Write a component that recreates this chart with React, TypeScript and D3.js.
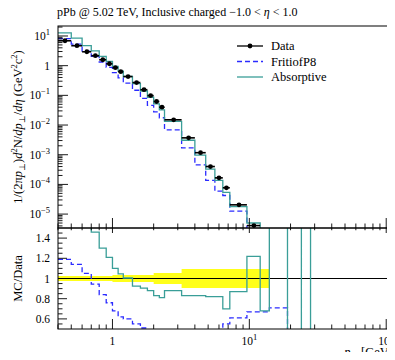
import React, { useEffect, useRef } from "react";
import * as d3 from "d3";

// bin edges in p_T (GeV)
const binEdges = [0.4, 0.5, 0.6, 0.7, 0.8, 0.9, 1.0, 1.1, 1.2, 1.4, 1.6, 1.8, 2.0, 2.2, 2.4, 3.2, 4.0, 4.8, 5.6, 6.4, 7.2, 9.6, 12, 14, 19, 24, 28, 32];

// measured yield per bin (first 23 bins, up to 14 GeV)
const dataValues = [6.9, 4.7, 2.94, 2.17, 1.58, 1.16, 0.855, 0.63, 0.43, 0.27, 0.155, 0.098, 0.062, 0.04, 0.015, 0.0037, 0.00117, 0.0004, 0.000166, 7.7e-5, 2.05e-5, 4.1e-6, 1.5e-6];
// relative uncertainty of the data
const dataRelErr = [0.025, 0.025, 0.025, 0.025, 0.025, 0.025, 0.035, 0.035, 0.035, 0.035, 0.035, 0.035, 0.055, 0.055, 0.055, 0.095, 0.095, 0.095, 0.095, 0.095, 0.095, 0.095, 0.095];

// MC / Data
const absorptiveRatio = [1.85, 1.8, 1.6, 1.46, 1.3, 1.21, 1.1, 1.045, 1.005, 0.925, 0.905, 0.88, 0.83, 0.81, 0.88, 0.83, 0.83, 0.82, 0.82, 0.7, 0.87, 1.22, 0.68, 2.0, 0, 2.0, 0];
const fritiofRatio = [1.19, 1.14, 1.05, 0.945, 0.84, 0.76, 0.68, 0.62, 0.6, 0.55, 0.51, 0.47, 0.45, 0.44, 0.46, 0.46, 0.39, 0.34, 0.36, 0.55, 0.61, 0.67, 0.67, 0.71, 0, 0, 0];

const mainYTicks = [1e1, 1, 1e-1, 1e-2, 1e-3, 1e-4, 1e-5];
const ratioYTicks = [0.6, 0.8, 1.0, 1.2, 1.4];
const xMajorTicks = [1, 10, 100];

const legendItems = [
  { label: "Data", color: "#000", dash: null },
  { label: "FritiofP8", color: "#2b2bff", dash: "5,3" },
  { label: "Absorptive", color: "#3a9e98", dash: null },
];

const FONT = "'Liberation Serif', 'DejaVu Serif', serif";

const App = () => {
  const ref = useRef<SVGSVGElement>(null);

  useEffect(() => {
    const svg = d3.select(ref.current);
    svg.selectAll("*").remove();

    const left = 58;
    const right = 394;
    const top = 26;
    const mid = 228;
    const bottom = 329;

    const x = d3.scaleLog().domain([0.4, 114]).range([left, right]);
    const y = d3.scaleLog().domain([3.4e-6, 21.7]).range([mid, top]);
    const yr = d3.scaleLinear().domain([0.5, 1.5]).range([bottom, mid]);

    const defs = svg.append("defs");
    defs.append("clipPath").attr("id", "clipMain").append("rect")
      .attr("x", left).attr("y", top).attr("width", right - left).attr("height", mid - top);
    defs.append("clipPath").attr("id", "clipRatio").append("rect")
      .attr("x", left).attr("y", mid).attr("width", right - left).attr("height", bottom - mid);

    const stepPath = (vals: number[], ys: (v: number) => number) => {
      let p = "";
      vals.forEach((v, i) => {
        const yy = v > 0 ? ys(v) : 2000;
        const yc = Math.max(-1000, Math.min(2000, yy));
        if (i === 0) p += `M${x(binEdges[0])},${yc}`;
        else p += `V${yc}`;
        p += `H${x(binEdges[i + 1])}`;
      });
      return p;
    };

    // ---- main panel ----
    const gMain = svg.append("g").attr("clip-path", "url(#clipMain)");
    const nData = dataValues.length;
    const fritiofMain = dataValues.map((d, i) => d * fritiofRatio[i]);
    const absorptiveMain = dataValues.map((d, i) => d * absorptiveRatio[i]);

    gMain.append("path").attr("d", stepPath(fritiofMain, y)).attr("fill", "none")
      .attr("stroke", legendItems[1].color).attr("stroke-width", 1.3).attr("stroke-dasharray", "5,3");
    gMain.append("path").attr("d", stepPath(absorptiveMain, y)).attr("fill", "none")
      .attr("stroke", legendItems[2].color).attr("stroke-width", 1.3);

    const pts = dataValues.map((v, i) => ({
      lo: binEdges[i], hi: binEdges[i + 1], mid: (binEdges[i] + binEdges[i + 1]) / 2, v, e: dataRelErr[i],
    }));
    gMain.selectAll(".xerr").data(pts).enter().append("line")
      .attr("x1", (d) => x(d.lo)).attr("x2", (d) => x(d.hi))
      .attr("y1", (d) => y(d.v)).attr("y2", (d) => y(d.v))
      .attr("stroke", "#000").attr("stroke-width", 1.6);
    gMain.selectAll(".yerr").data(pts).enter().append("line")
      .attr("x1", (d) => x(d.mid)).attr("x2", (d) => x(d.mid))
      .attr("y1", (d) => y(d.v * (1 + d.e))).attr("y2", (d) => y(d.v * (1 - d.e)))
      .attr("stroke", "#000").attr("stroke-width", 1.4);
    gMain.selectAll(".pt").data(pts).enter().append("circle")
      .attr("cx", (d) => x(d.mid)).attr("cy", (d) => y(d.v)).attr("r", 2.4).attr("fill", "#000");

    // ---- ratio panel ----
    const gRatio = svg.append("g").attr("clip-path", "url(#clipRatio)");
    const bandArea = d3.area<number>()
      .x((_, i) => x(binEdges[Math.floor(i / 2) + (i % 2)]))
      .y0((_, i) => yr(1 - dataRelErr[Math.floor(i / 2)]))
      .y1((_, i) => yr(1 + dataRelErr[Math.floor(i / 2)]));
    const bandPts = d3.range(nData * 2);
    gRatio.append("path").attr("d", bandArea(bandPts)).attr("fill", "#ffff1a");
    gRatio.append("line").attr("x1", left).attr("x2", right).attr("y1", yr(1)).attr("y2", yr(1))
      .attr("stroke", "#000").attr("stroke-width", 1.2);
    gRatio.append("path").attr("d", stepPath(fritiofRatio, yr)).attr("fill", "none")
      .attr("stroke", legendItems[1].color).attr("stroke-width", 1.3).attr("stroke-dasharray", "5,3");
    gRatio.append("path").attr("d", stepPath(absorptiveRatio, yr)).attr("fill", "none")
      .attr("stroke", legendItems[2].color).attr("stroke-width", 1.3);

    // ---- frames ----
    svg.append("rect").attr("x", left).attr("y", top).attr("width", right - left).attr("height", mid - top)
      .attr("fill", "none").attr("stroke", "#000").attr("stroke-width", 1);
    svg.append("rect").attr("x", left).attr("y", mid).attr("width", right - left).attr("height", bottom - mid)
      .attr("fill", "none").attr("stroke", "#000").attr("stroke-width", 1);

    // ---- x ticks ----
    const xMinor: number[] = [];
    [0.1, 1, 10].forEach((dec) => {
      for (let k = 2; k <= 9; k++) {
        const v = dec * k;
        if (v >= 0.4 && v <= 114) xMinor.push(v);
      }
    });
    const tickG = svg.append("g").attr("stroke", "#000").attr("stroke-width", 0.9);
    const xTick = (v: number, len: number) => {
      const xx = x(v);
      tickG.append("line").attr("x1", xx).attr("x2", xx).attr("y1", mid).attr("y2", mid - len);
      tickG.append("line").attr("x1", xx).attr("x2", xx).attr("y1", mid).attr("y2", mid + len * 0.5);
      tickG.append("line").attr("x1", xx).attr("x2", xx).attr("y1", bottom).attr("y2", bottom - len);
    };
    xMinor.forEach((v) => xTick(v, 4.5));
    xMajorTicks.forEach((v) => xTick(v, 10));

    // ---- main y ticks ----
    for (let e = -6; e <= 1; e++) {
      for (let k = 1; k <= 9; k++) {
        const v = k * Math.pow(10, e);
        if (v < 3.4e-6 || v > 21.7) continue;
        const yy = y(v);
        tickG.append("line").attr("x1", left).attr("x2", left + (k === 1 ? 10 : 4.5)).attr("y1", yy).attr("y2", yy);
      }
    }
    // ---- ratio y ticks ----
    d3.range(0.55, 1.5, 0.05).forEach((v) => {
      const major = ratioYTicks.some((t) => Math.abs(t - v) < 1e-6);
      const yy = yr(v);
      tickG.append("line").attr("x1", left).attr("x2", left + (major ? 9 : 4.5)).attr("y1", yy).attr("y2", yy);
    });

    // ---- labels ----
    const txt = svg.append("g").attr("font-family", FONT).attr("fill", "#000");

    mainYTicks.forEach((v) => {
      const e = Math.round(Math.log10(v));
      const t = txt.append("text").attr("x", 50).attr("y", y(v) + 4).attr("text-anchor", "end").attr("font-size", 11.5);
      if (e === 0) {
        t.text("1");
      } else {
        t.append("tspan").text("10");
        t.append("tspan").attr("dy", -5).attr("font-size", 8.5).text(e < 0 ? "\u2212" + -e : String(e));
      }
    });
    ratioYTicks.forEach((v) => {
      txt.append("text").attr("x", 50).attr("y", yr(v) + 4).attr("text-anchor", "end").attr("font-size", 11.5)
        .text(v === 1 ? "1" : d3.format(".1f")(v));
    });
    xMajorTicks.forEach((v) => {
      const e = Math.round(Math.log10(v));
      const t = txt.append("text").attr("x", x(v)).attr("y", 345).attr("text-anchor", "middle").attr("font-size", 11.5);
      if (e === 0) {
        t.text("1");
      } else {
        t.append("tspan").text("10");
        t.append("tspan").attr("dy", -5).attr("font-size", 8.5).text(String(e));
      }
    });

    // x axis title
    const xt = txt.append("text").attr("x", 393).attr("y", 356).attr("text-anchor", "end").attr("font-size", 12.5);
    xt.append("tspan").attr("font-style", "italic").text("p");
    xt.append("tspan").attr("dy", 2).attr("font-size", 8).text("\u22a5");
    xt.append("tspan").attr("dy", -2).text(" [GeV]");

    // y axis title (main)
    const yt = txt.append("text").attr("transform", `translate(22,${(top + mid) / 2}) rotate(-90)`)
      .attr("text-anchor", "middle").attr("font-size", 12.5);
    yt.append("tspan").text("1/(2\u03c0");
    yt.append("tspan").attr("font-style", "italic").text("p");
    yt.append("tspan").attr("dy", 3).attr("font-size", 8.5).text("\u22a5");
    yt.append("tspan").attr("dy", -3).text(")");
    yt.append("tspan").attr("font-style", "italic").text("d");
    yt.append("tspan").attr("dy", -5).attr("font-size", 8.5).text("2");
    yt.append("tspan").attr("dy", 5).text("N/");
    yt.append("tspan").attr("font-style", "italic").text("dp");
    yt.append("tspan").attr("dy", 3).attr("font-size", 8.5).text("\u22a5");
    yt.append("tspan").attr("dy", -3).text("/");
    yt.append("tspan").attr("font-style", "italic").text("d\u03b7");
    yt.append("tspan").text(" (GeV");
    yt.append("tspan").attr("dy", -5).attr("font-size", 8.5).text("2");
    yt.append("tspan").attr("dy", 5).text("c");
    yt.append("tspan").attr("dy", -5).attr("font-size", 8.5).text("2");
    yt.append("tspan").attr("dy", 5).text(")");

    // y axis title (ratio)
    txt.append("text").attr("transform", `translate(22,${(mid + bottom) / 2}) rotate(-90)`)
      .attr("text-anchor", "middle").attr("font-size", 12.5).text("MC/Data");

    // title
    const title = txt.append("text").attr("x", 57).attr("y", 16).attr("font-size", 12);
    title.append("tspan").text("pPb @ 5.02 TeV, Inclusive charged \u22121.0 < ");
    title.append("tspan").attr("font-style", "italic").text("\u03b7");
    title.append("tspan").text(" < 1.0");

    // legend
    legendItems.forEach((item, i) => {
      const ly = 46 + i * 15.5;
      svg.append("line").attr("x1", 237).attr("x2", 263).attr("y1", ly).attr("y2", ly)
        .attr("stroke", item.color).attr("stroke-width", 1.3)
        .attr("stroke-dasharray", item.dash ?? null);
      if (i === 0) svg.append("circle").attr("cx", 250).attr("cy", ly).attr("r", 2.4).attr("fill", "#000");
      txt.append("text").attr("x", 271).attr("y", ly + 4).attr("font-size", 12.5).text(item.label);
    });
  }, []);

  return (
    <div style={{ margin: -8 }}>
      <svg ref={ref} width={395} height={360} style={{ display: "block", background: "#fff" }}></svg>
    </div>
  );
};

export default App;
